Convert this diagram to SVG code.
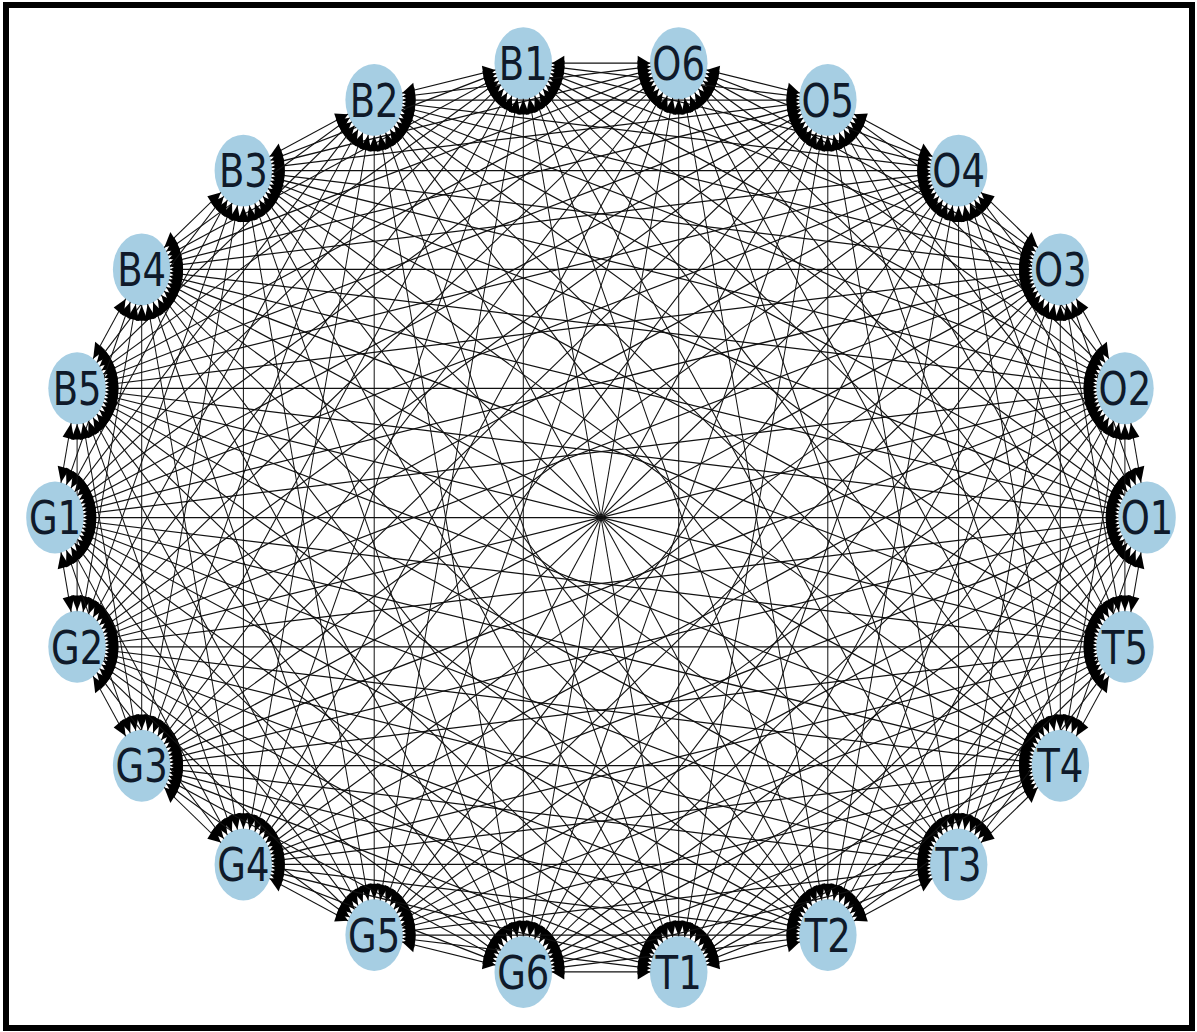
<svg xmlns="http://www.w3.org/2000/svg" width="1197" height="1032" viewBox="0 0 1197 1032">
<defs>
<marker id="ah" markerUnits="userSpaceOnUse" orient="auto-start-reverse" refX="0" refY="0" markerWidth="1" markerHeight="1" overflow="visible">
<path d="M-28.6,0 L-41,-6 L-41,6 Z" fill="#000"/>
</marker>
</defs>
<style>
.e path{fill:none;stroke:#111;stroke-width:1;marker-start:url(#ah);marker-end:url(#ah)}
.n circle{fill:#a6cee3}
.n text{font-family:"DejaVu Sans","Liberation Sans",sans-serif;font-size:37px;fill:#0f1a2a;text-anchor:middle}
</style>
<rect x="0" y="0" width="1197" height="1032" fill="#fff"/>
<rect x="6" y="5" width="1186" height="1023" fill="none" stroke="#000" stroke-width="6"/>
<g transform="scale(1,1.25)">
<g class="n">
<g id="O1"><circle cx="1147" cy="414" r="28.8"/></g>
<g id="O2"><circle cx="1124.9" cy="310.6" r="28.8"/></g>
<g id="O3"><circle cx="1060.3" cy="215.5" r="28.8"/></g>
<g id="O4"><circle cx="958.6" cy="136.5" r="28.8"/></g>
<g id="O5"><circle cx="827.8" cy="80" r="28.8"/></g>
<g id="O6"><circle cx="678.7" cy="50.5" r="28.8"/></g>
<g id="B1"><circle cx="523.3" cy="50.5" r="28.8"/></g>
<g id="B2"><circle cx="374.2" cy="80" r="28.8"/></g>
<g id="B3"><circle cx="243.4" cy="136.5" r="28.8"/></g>
<g id="B4"><circle cx="141.7" cy="215.5" r="28.8"/></g>
<g id="B5"><circle cx="77.1" cy="310.6" r="28.8"/></g>
<g id="G1"><circle cx="55" cy="414" r="28.8"/></g>
<g id="G2"><circle cx="77.1" cy="517.4" r="28.8"/></g>
<g id="G3"><circle cx="141.7" cy="612.5" r="28.8"/></g>
<g id="G4"><circle cx="243.4" cy="691.5" r="28.8"/></g>
<g id="G5"><circle cx="374.2" cy="748" r="28.8"/></g>
<g id="G6"><circle cx="523.3" cy="777.5" r="28.8"/></g>
<g id="T1"><circle cx="678.7" cy="777.5" r="28.8"/></g>
<g id="T2"><circle cx="827.8" cy="748" r="28.8"/></g>
<g id="T3"><circle cx="958.6" cy="691.5" r="28.8"/></g>
<g id="T4"><circle cx="1060.3" cy="612.5" r="28.8"/></g>
<g id="T5"><circle cx="1124.9" cy="517.4" r="28.8"/></g>
</g>
<mask id="m" maskUnits="userSpaceOnUse" x="0" y="0" width="1197" height="830">
<rect x="0" y="0" width="1197" height="830" fill="#fff"/>
<g fill="#000">
<circle cx="1147" cy="414" r="28.5"/><circle cx="1124.9" cy="310.6" r="28.5"/><circle cx="1060.3" cy="215.5" r="28.5"/><circle cx="958.6" cy="136.5" r="28.5"/><circle cx="827.8" cy="80" r="28.5"/><circle cx="678.7" cy="50.5" r="28.5"/><circle cx="523.3" cy="50.5" r="28.5"/><circle cx="374.2" cy="80" r="28.5"/><circle cx="243.4" cy="136.5" r="28.5"/><circle cx="141.7" cy="215.5" r="28.5"/><circle cx="77.1" cy="310.6" r="28.5"/><circle cx="55" cy="414" r="28.5"/><circle cx="77.1" cy="517.4" r="28.5"/><circle cx="141.7" cy="612.5" r="28.5"/><circle cx="243.4" cy="691.5" r="28.5"/><circle cx="374.2" cy="748" r="28.5"/><circle cx="523.3" cy="777.5" r="28.5"/><circle cx="678.7" cy="777.5" r="28.5"/><circle cx="827.8" cy="748" r="28.5"/><circle cx="958.6" cy="691.5" r="28.5"/><circle cx="1060.3" cy="612.5" r="28.5"/><circle cx="1124.9" cy="517.4" r="28.5"/>
</g>
</mask>
<g id="edges" class="e" mask="url(#m)">
<path d="M1147 414 1124.9 310.6"/><path d="M1147 414 1060.3 215.5"/><path d="M1147 414 958.6 136.5"/><path d="M1147 414 827.8 80"/><path d="M1147 414 678.7 50.5"/><path d="M1147 414 523.3 50.5"/><path d="M1147 414 374.2 80"/><path d="M1147 414 243.4 136.5"/><path d="M1147 414 141.7 215.5"/><path d="M1147 414 77.1 310.6"/><path d="M1147 414 55 414"/><path d="M1147 414 77.1 517.4"/><path d="M1147 414 141.7 612.5"/><path d="M1147 414 243.4 691.5"/><path d="M1147 414 374.2 748"/><path d="M1147 414 523.3 777.5"/><path d="M1147 414 678.7 777.5"/><path d="M1147 414 827.8 748"/><path d="M1147 414 958.6 691.5"/><path d="M1147 414 1060.3 612.5"/><path d="M1147 414 1124.9 517.4"/>
<path d="M1124.9 310.6 1060.3 215.5"/><path d="M1124.9 310.6 958.6 136.5"/><path d="M1124.9 310.6 827.8 80"/><path d="M1124.9 310.6 678.7 50.5"/><path d="M1124.9 310.6 523.3 50.5"/><path d="M1124.9 310.6 374.2 80"/><path d="M1124.9 310.6 243.4 136.5"/><path d="M1124.9 310.6 141.7 215.5"/><path d="M1124.9 310.6 77.1 310.6"/><path d="M1124.9 310.6 55 414"/><path d="M1124.9 310.6 77.1 517.4"/><path d="M1124.9 310.6 141.7 612.5"/><path d="M1124.9 310.6 243.4 691.5"/><path d="M1124.9 310.6 374.2 748"/><path d="M1124.9 310.6 523.3 777.5"/><path d="M1124.9 310.6 678.7 777.5"/><path d="M1124.9 310.6 827.8 748"/><path d="M1124.9 310.6 958.6 691.5"/><path d="M1124.9 310.6 1060.3 612.5"/><path d="M1124.9 310.6 1124.9 517.4"/>
<path d="M1060.3 215.5 958.6 136.5"/><path d="M1060.3 215.5 827.8 80"/><path d="M1060.3 215.5 678.7 50.5"/><path d="M1060.3 215.5 523.3 50.5"/><path d="M1060.3 215.5 374.2 80"/><path d="M1060.3 215.5 243.4 136.5"/><path d="M1060.3 215.5 141.7 215.5"/><path d="M1060.3 215.5 77.1 310.6"/><path d="M1060.3 215.5 55 414"/><path d="M1060.3 215.5 77.1 517.4"/><path d="M1060.3 215.5 141.7 612.5"/><path d="M1060.3 215.5 243.4 691.5"/><path d="M1060.3 215.5 374.2 748"/><path d="M1060.3 215.5 523.3 777.5"/><path d="M1060.3 215.5 678.7 777.5"/><path d="M1060.3 215.5 827.8 748"/><path d="M1060.3 215.5 958.6 691.5"/><path d="M1060.3 215.5 1060.3 612.5"/><path d="M1060.3 215.5 1124.9 517.4"/>
<path d="M958.6 136.5 827.8 80"/><path d="M958.6 136.5 678.7 50.5"/><path d="M958.6 136.5 523.3 50.5"/><path d="M958.6 136.5 374.2 80"/><path d="M958.6 136.5 243.4 136.5"/><path d="M958.6 136.5 141.7 215.5"/><path d="M958.6 136.5 77.1 310.6"/><path d="M958.6 136.5 55 414"/><path d="M958.6 136.5 77.1 517.4"/><path d="M958.6 136.5 141.7 612.5"/><path d="M958.6 136.5 243.4 691.5"/><path d="M958.6 136.5 374.2 748"/><path d="M958.6 136.5 523.3 777.5"/><path d="M958.6 136.5 678.7 777.5"/><path d="M958.6 136.5 827.8 748"/><path d="M958.6 136.5 958.6 691.5"/><path d="M958.6 136.5 1060.3 612.5"/><path d="M958.6 136.5 1124.9 517.4"/>
<path d="M827.8 80 678.7 50.5"/><path d="M827.8 80 523.3 50.5"/><path d="M827.8 80 374.2 80"/><path d="M827.8 80 243.4 136.5"/><path d="M827.8 80 141.7 215.5"/><path d="M827.8 80 77.1 310.6"/><path d="M827.8 80 55 414"/><path d="M827.8 80 77.1 517.4"/><path d="M827.8 80 141.7 612.5"/><path d="M827.8 80 243.4 691.5"/><path d="M827.8 80 374.2 748"/><path d="M827.8 80 523.3 777.5"/><path d="M827.8 80 678.7 777.5"/><path d="M827.8 80 827.8 748"/><path d="M827.8 80 958.6 691.5"/><path d="M827.8 80 1060.3 612.5"/><path d="M827.8 80 1124.9 517.4"/>
<path d="M678.7 50.5 523.3 50.5"/><path d="M678.7 50.5 374.2 80"/><path d="M678.7 50.5 243.4 136.5"/><path d="M678.7 50.5 141.7 215.5"/><path d="M678.7 50.5 77.1 310.6"/><path d="M678.7 50.5 55 414"/><path d="M678.7 50.5 77.1 517.4"/><path d="M678.7 50.5 141.7 612.5"/><path d="M678.7 50.5 243.4 691.5"/><path d="M678.7 50.5 374.2 748"/><path d="M678.7 50.5 523.3 777.5"/><path d="M678.7 50.5 678.7 777.5"/><path d="M678.7 50.5 827.8 748"/><path d="M678.7 50.5 958.6 691.5"/><path d="M678.7 50.5 1060.3 612.5"/><path d="M678.7 50.5 1124.9 517.4"/>
<path d="M523.3 50.5 374.2 80"/><path d="M523.3 50.5 243.4 136.5"/><path d="M523.3 50.5 141.7 215.5"/><path d="M523.3 50.5 77.1 310.6"/><path d="M523.3 50.5 55 414"/><path d="M523.3 50.5 77.1 517.4"/><path d="M523.3 50.5 141.7 612.5"/><path d="M523.3 50.5 243.4 691.5"/><path d="M523.3 50.5 374.2 748"/><path d="M523.3 50.5 523.3 777.5"/><path d="M523.3 50.5 678.7 777.5"/><path d="M523.3 50.5 827.8 748"/><path d="M523.3 50.5 958.6 691.5"/><path d="M523.3 50.5 1060.3 612.5"/><path d="M523.3 50.5 1124.9 517.4"/>
<path d="M374.2 80 243.4 136.5"/><path d="M374.2 80 141.7 215.5"/><path d="M374.2 80 77.1 310.6"/><path d="M374.2 80 55 414"/><path d="M374.2 80 77.1 517.4"/><path d="M374.2 80 141.7 612.5"/><path d="M374.2 80 243.4 691.5"/><path d="M374.2 80 374.2 748"/><path d="M374.2 80 523.3 777.5"/><path d="M374.2 80 678.7 777.5"/><path d="M374.2 80 827.8 748"/><path d="M374.2 80 958.6 691.5"/><path d="M374.2 80 1060.3 612.5"/><path d="M374.2 80 1124.9 517.4"/>
<path d="M243.4 136.5 141.7 215.5"/><path d="M243.4 136.5 77.1 310.6"/><path d="M243.4 136.5 55 414"/><path d="M243.4 136.5 77.1 517.4"/><path d="M243.4 136.5 141.7 612.5"/><path d="M243.4 136.5 243.4 691.5"/><path d="M243.4 136.5 374.2 748"/><path d="M243.4 136.5 523.3 777.5"/><path d="M243.4 136.5 678.7 777.5"/><path d="M243.4 136.5 827.8 748"/><path d="M243.4 136.5 958.6 691.5"/><path d="M243.4 136.5 1060.3 612.5"/><path d="M243.4 136.5 1124.9 517.4"/>
<path d="M141.7 215.5 77.1 310.6"/><path d="M141.7 215.5 55 414"/><path d="M141.7 215.5 77.1 517.4"/><path d="M141.7 215.5 141.7 612.5"/><path d="M141.7 215.5 243.4 691.5"/><path d="M141.7 215.5 374.2 748"/><path d="M141.7 215.5 523.3 777.5"/><path d="M141.7 215.5 678.7 777.5"/><path d="M141.7 215.5 827.8 748"/><path d="M141.7 215.5 958.6 691.5"/><path d="M141.7 215.5 1060.3 612.5"/><path d="M141.7 215.5 1124.9 517.4"/>
<path d="M77.1 310.6 55 414"/><path d="M77.1 310.6 77.1 517.4"/><path d="M77.1 310.6 141.7 612.5"/><path d="M77.1 310.6 243.4 691.5"/><path d="M77.1 310.6 374.2 748"/><path d="M77.1 310.6 523.3 777.5"/><path d="M77.1 310.6 678.7 777.5"/><path d="M77.1 310.6 827.8 748"/><path d="M77.1 310.6 958.6 691.5"/><path d="M77.1 310.6 1060.3 612.5"/><path d="M77.1 310.6 1124.9 517.4"/>
<path d="M55 414 77.1 517.4"/><path d="M55 414 141.7 612.5"/><path d="M55 414 243.4 691.5"/><path d="M55 414 374.2 748"/><path d="M55 414 523.3 777.5"/><path d="M55 414 678.7 777.5"/><path d="M55 414 827.8 748"/><path d="M55 414 958.6 691.5"/><path d="M55 414 1060.3 612.5"/><path d="M55 414 1124.9 517.4"/>
<path d="M77.1 517.4 141.7 612.5"/><path d="M77.1 517.4 243.4 691.5"/><path d="M77.1 517.4 374.2 748"/><path d="M77.1 517.4 523.3 777.5"/><path d="M77.1 517.4 678.7 777.5"/><path d="M77.1 517.4 827.8 748"/><path d="M77.1 517.4 958.6 691.5"/><path d="M77.1 517.4 1060.3 612.5"/><path d="M77.1 517.4 1124.9 517.4"/>
<path d="M141.7 612.5 243.4 691.5"/><path d="M141.7 612.5 374.2 748"/><path d="M141.7 612.5 523.3 777.5"/><path d="M141.7 612.5 678.7 777.5"/><path d="M141.7 612.5 827.8 748"/><path d="M141.7 612.5 958.6 691.5"/><path d="M141.7 612.5 1060.3 612.5"/><path d="M141.7 612.5 1124.9 517.4"/>
<path d="M243.4 691.5 374.2 748"/><path d="M243.4 691.5 523.3 777.5"/><path d="M243.4 691.5 678.7 777.5"/><path d="M243.4 691.5 827.8 748"/><path d="M243.4 691.5 958.6 691.5"/><path d="M243.4 691.5 1060.3 612.5"/><path d="M243.4 691.5 1124.9 517.4"/>
<path d="M374.2 748 523.3 777.5"/><path d="M374.2 748 678.7 777.5"/><path d="M374.2 748 827.8 748"/><path d="M374.2 748 958.6 691.5"/><path d="M374.2 748 1060.3 612.5"/><path d="M374.2 748 1124.9 517.4"/>
<path d="M523.3 777.5 678.7 777.5"/><path d="M523.3 777.5 827.8 748"/><path d="M523.3 777.5 958.6 691.5"/><path d="M523.3 777.5 1060.3 612.5"/><path d="M523.3 777.5 1124.9 517.4"/>
<path d="M678.7 777.5 827.8 748"/><path d="M678.7 777.5 958.6 691.5"/><path d="M678.7 777.5 1060.3 612.5"/><path d="M678.7 777.5 1124.9 517.4"/>
<path d="M827.8 748 958.6 691.5"/><path d="M827.8 748 1060.3 612.5"/><path d="M827.8 748 1124.9 517.4"/>
<path d="M958.6 691.5 1060.3 612.5"/><path d="M958.6 691.5 1124.9 517.4"/>
<path d="M1060.3 612.5 1124.9 517.4"/>
</g>
<g class="n">
<text x="1147" y="427.5">O1</text><text x="1124.9" y="324.1">O2</text><text x="1060.3" y="229">O3</text><text x="958.6" y="150">O4</text><text x="827.8" y="93.5">O5</text><text x="678.7" y="64">O6</text><text x="523.3" y="64">B1</text><text x="374.2" y="93.5">B2</text><text x="243.4" y="150">B3</text><text x="141.7" y="229">B4</text><text x="77.1" y="324.1">B5</text><text x="55" y="427.5">G1</text><text x="77.1" y="530.9">G2</text><text x="141.7" y="626">G3</text><text x="243.4" y="705">G4</text><text x="374.2" y="761.5">G5</text><text x="523.3" y="791">G6</text><text x="678.7" y="791">T1</text><text x="827.8" y="761.5">T2</text><text x="958.6" y="705">T3</text><text x="1060.3" y="626">T4</text><text x="1124.9" y="530.9">T5</text>
</g>
</g>
</svg>
